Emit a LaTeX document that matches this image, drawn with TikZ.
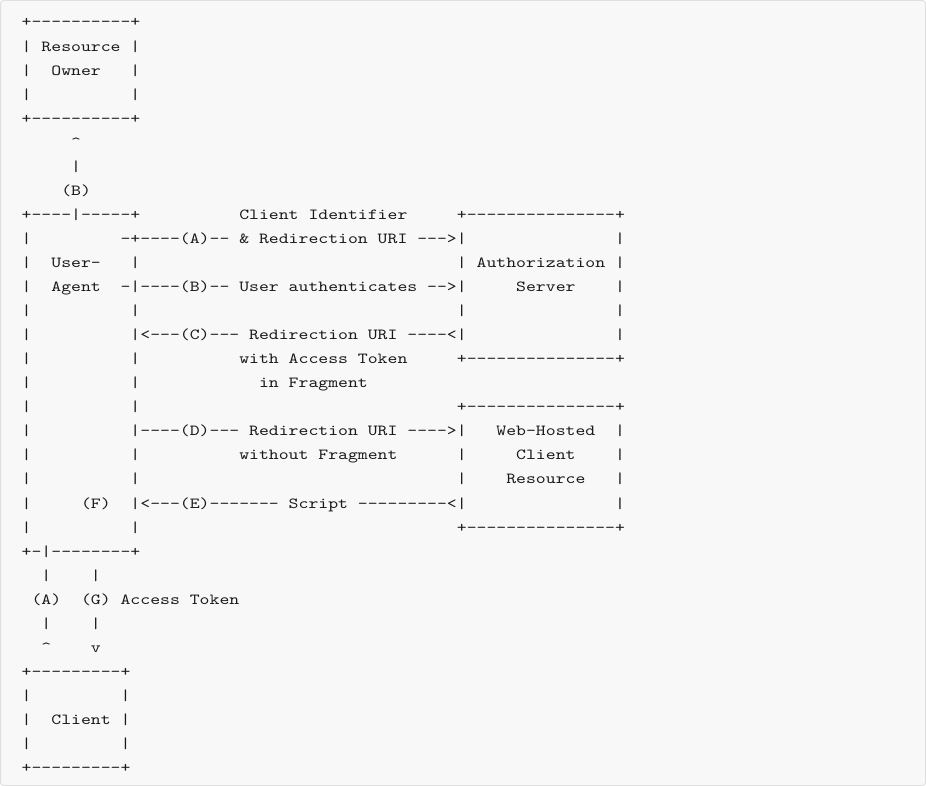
\documentclass[tikz,border=0pt]{standalone}
\usepackage{fontspec}
\newfontfamily\asciifont[FakeStretch=1.2233,Ligatures={TeXOff,CommonOff}]{lmmono10-regular.otf}
\definecolor{bgc}{HTML}{F8F8F8}
\definecolor{bdc}{HTML}{E0E0E0}
\definecolor{fgc}{HTML}{1A1A1A}
\tikzset{txt/.style={anchor=base west,inner sep=0pt,outer sep=0pt,text=fgc,
  font=\asciifont\fontsize{15.4}{18}\selectfont}}
\newcommand\seg[3]{\node[txt] (s#1c#2) at ({21.7+9.89*#2},{27+24.05*(#1-1)}) {#3};}
\begin{document}
\begin{tikzpicture}[x=1pt,y=-1pt]
\useasboundingbox (0,0) rectangle (926,786);
\fill[bgc,draw=bdc,line width=1pt,rounded corners=3pt] (0.5,0.5) rectangle (925.5,785.5);
% Resource Owner
\seg{1}{0}{+----------+}
\seg{2}{0}{|}\seg{2}{2}{Resource}\seg{2}{11}{|}
\seg{3}{0}{|}\seg{3}{3}{Owner}\seg{3}{11}{|}
\seg{4}{0}{|}\seg{4}{11}{|}
\seg{5}{0}{+----------+}
\seg{6}{5}{\textasciicircum}
\seg{7}{5}{|}
\seg{8}{4}{(B)}
% User-Agent and servers
\seg{9}{0}{+----|-----+}\seg{9}{22}{Client}\seg{9}{29}{Identifier}\seg{9}{44}{+---------------+}
\seg{10}{0}{|}\seg{10}{10}{-+----(A)--}\seg{10}{22}{\&}\seg{10}{24}{Redirection}\seg{10}{36}{URI}\seg{10}{40}{--->|}\seg{10}{60}{|}
\seg{11}{0}{|}\seg{11}{3}{User-}\seg{11}{11}{|}\seg{11}{44}{|}\seg{11}{46}{Authorization}\seg{11}{60}{|}
\seg{12}{0}{|}\seg{12}{3}{Agent}\seg{12}{10}{-|----(B)--}\seg{12}{22}{User}\seg{12}{27}{authenticates}\seg{12}{41}{-->|}\seg{12}{50}{Server}\seg{12}{60}{|}
\seg{13}{0}{|}\seg{13}{11}{|}\seg{13}{44}{|}\seg{13}{60}{|}
\seg{14}{0}{|}\seg{14}{11}{|<---(C)---}\seg{14}{23}{Redirection}\seg{14}{35}{URI}\seg{14}{39}{----<|}\seg{14}{60}{|}
\seg{15}{0}{|}\seg{15}{11}{|}\seg{15}{22}{with}\seg{15}{27}{Access}\seg{15}{34}{Token}\seg{15}{44}{+---------------+}
\seg{16}{0}{|}\seg{16}{11}{|}\seg{16}{24}{in}\seg{16}{27}{Fragment}
\seg{17}{0}{|}\seg{17}{11}{|}\seg{17}{44}{+---------------+}
\seg{18}{0}{|}\seg{18}{11}{|----(D)---}\seg{18}{23}{Redirection}\seg{18}{35}{URI}\seg{18}{39}{---->|}\seg{18}{48}{Web-Hosted}\seg{18}{60}{|}
\seg{19}{0}{|}\seg{19}{11}{|}\seg{19}{22}{without}\seg{19}{30}{Fragment}\seg{19}{44}{|}\seg{19}{50}{Client}\seg{19}{60}{|}
\seg{20}{0}{|}\seg{20}{11}{|}\seg{20}{44}{|}\seg{20}{49}{Resource}\seg{20}{60}{|}
\seg{21}{0}{|}\seg{21}{6}{(F)}\seg{21}{11}{|<---(E)-------}\seg{21}{27}{Script}\seg{21}{34}{---------<|}\seg{21}{60}{|}
\seg{22}{0}{|}\seg{22}{11}{|}\seg{22}{44}{+---------------+}
\seg{23}{0}{+-|--------+}
% Client
\seg{24}{2}{|}\seg{24}{7}{|}
\seg{25}{1}{(A)}\seg{25}{6}{(G)}\seg{25}{10}{Access}\seg{25}{17}{Token}
\seg{26}{2}{|}\seg{26}{7}{|}
\seg{27}{2}{\textasciicircum}\seg{27}{7}{v}
\seg{28}{0}{+---------+}
\seg{29}{0}{|}\seg{29}{10}{|}
\seg{30}{0}{|}\seg{30}{3}{Client}\seg{30}{10}{|}
\seg{31}{0}{|}\seg{31}{10}{|}
\seg{32}{0}{+---------+}
\end{tikzpicture}
\end{document}
